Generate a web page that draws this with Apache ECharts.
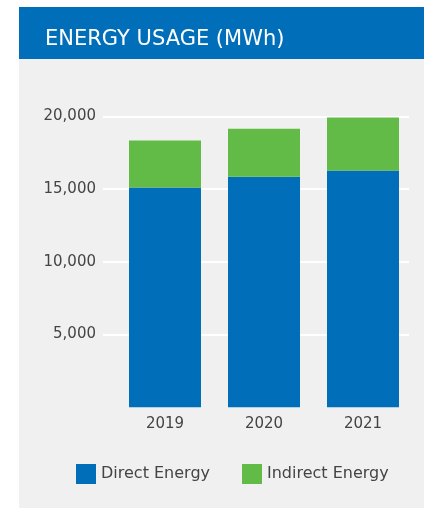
<!DOCTYPE html>
<html><head><meta charset="utf-8">
<script src="https://cdn.jsdelivr.net/npm/echarts@6/dist/echarts.min.js"></script>
<style>html,body{margin:0;padding:0;background:#fff}#c{width:424px;height:508px}</style>
</head><body><div id="c"></div>
<script>
var years = ['2019', '2020', '2021'];
var directEnergy = [15100, 15850, 16270];
var indirectEnergy = [3230, 3300, 3640];
var yTicks = [0, 5000, 10000, 15000, 20000];
var FONT = '"DejaVu Sans", sans-serif';
var chart = echarts.init(document.getElementById('c'));
chart.setOption({
  animation: false,
  backgroundColor: '#ffffff',
  graphic: [
    {type: 'rect', shape: {x: 19, y: 59, width: 405, height: 449}, style: {fill: '#f0f0f0'}, z: -10},
    {type: 'rect', shape: {x: 19, y: 7, width: 405, height: 52}, style: {fill: '#006eb9'}, z: -10},
    {type: 'text', style: {text: 'ENERGY USAGE (MWh)', x: 45, y: 40, fill: '#ffffff', font: 'normal 21px ' + FONT, verticalAlign: 'middle'}}
  ],
  grid: [
    {left: 115.5, right: 11.5, top: 116.3, bottom: 100.7},
    {left: 103, right: 15, top: 116.3, bottom: 100.7}
  ],
  xAxis: [
    {type: 'category', gridIndex: 0, data: years, axisLine: {show: false}, axisTick: {show: false},
     axisLabel: {color: '#444', fontSize: 15, fontFamily: FONT, margin: 9}},
    {type: 'value', gridIndex: 1, show: false}
  ],
  yAxis: [
    {type: 'value', gridIndex: 0, min: 0, max: 20000, interval: 5000, axisLabel: {show: false}, splitLine: {show: false}, axisLine: {show: false}, axisTick: {show: false}},
    {type: 'value', gridIndex: 1, min: 0, max: 20000, interval: 5000, axisLine: {show: false}, axisTick: {show: false},
     axisLabel: {color: '#444', fontSize: 15, fontFamily: FONT, margin: 7, showMinLabel: false,
       formatter: function (v) { return v === 0 ? '' : v.toLocaleString('en-US'); }},
     splitLine: {show: true, showMinLine: false, lineStyle: {color: '#ffffff', width: 2}}}
  ],
  legend: {
    left: 71, top: 459, itemWidth: 20, itemHeight: 20, itemGap: 32, icon: 'rect',
    textStyle: {color: '#444', fontSize: 16, fontFamily: FONT},
    data: ['Direct Energy', 'Indirect Energy']
  },
  series: [
    {name: 'Direct Energy', type: 'bar', stack: 'e', xAxisIndex: 0, yAxisIndex: 0, barWidth: 72, data: directEnergy, itemStyle: {color: '#006eb9'}},
    {name: 'Indirect Energy', type: 'bar', stack: 'e', xAxisIndex: 0, yAxisIndex: 0, barWidth: 72, data: indirectEnergy, itemStyle: {color: '#63bb47'}}
  ]
});
</script></body></html>
